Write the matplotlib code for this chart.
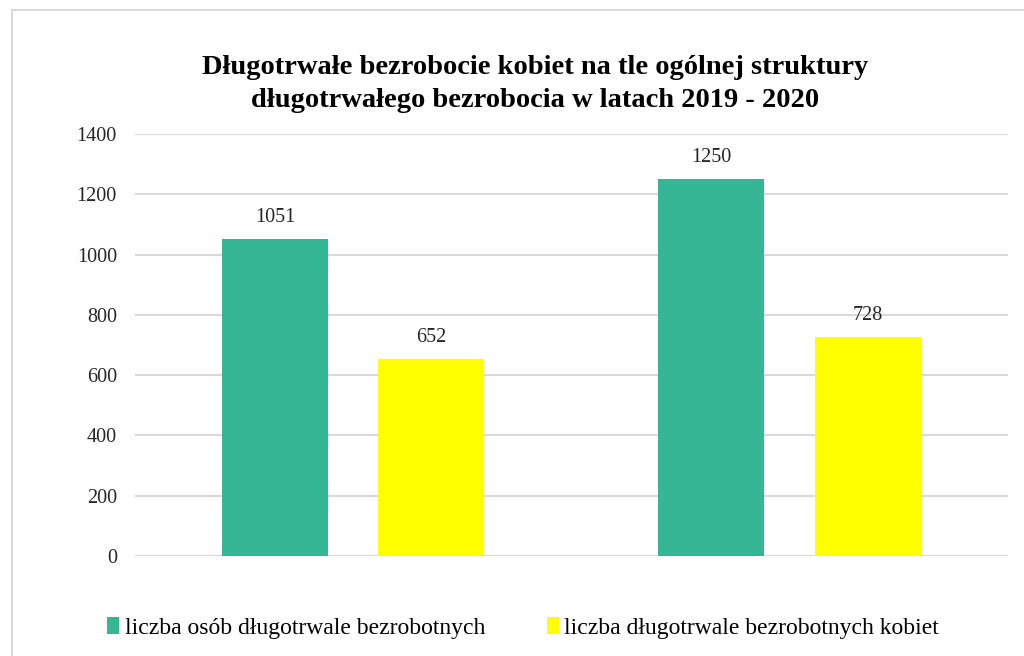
import matplotlib.pyplot as plt
import numpy as np
from matplotlib.patches import Rectangle

years = ["2019", "2020"]
ogolem = [1051, 1250]
kobiety = [652, 728]
series_names = ["liczba osób długotrwale bezrobotnych", "liczba długotrwale bezrobotnych kobiet"]
yticks = [0, 200, 400, 600, 800, 1000, 1200, 1400]

plt.rcParams['font.family'] = ['Liberation Serif', 'DejaVu Serif']

fig = plt.figure(figsize=(10.24, 6.56), dpi=100)
ax = fig.add_axes([0.1318, 0.1524, 0.8522, 0.6433])

# chart border
fig.patches.append(Rectangle((12 / 1024, -0.1), 1.2, (656 - 10) / 656 + 0.1,
                             transform=fig.transFigure, fill=False,
                             edgecolor='#D9D9D9', linewidth=1.5))

x = np.arange(len(years))
w = 0.243
off = 0.179
b1 = ax.bar(x - off, ogolem, w, color='#35B795', label=series_names[0])
b2 = ax.bar(x + off, kobiety, w, color='#FFFF00', label=series_names[1])

for bars in (b1, b2):
    for r in bars:
        ax.text(r.get_x() + r.get_width() / 2, r.get_height() + 40, str(int(r.get_height())),
                ha='center', va='bottom', fontsize=14.5, color='#262626')

ax.set_xlim(-0.5, 1.5)
ax.set_ylim(0, 1400)
ax.set_yticks(yticks)
ax.set_yticklabels([str(t) for t in yticks], fontsize=14.5, color='#262626')
ax.set_xticks([])
ax.tick_params(axis='y', length=0, pad=13)
ax.grid(axis='y', color='#D9D9D9', linewidth=1.5)
ax.set_axisbelow(True)
for s in ax.spines.values():
    s.set_visible(False)

fig.text(0.523, 0.872, "Długotrwałe bezrobocie kobiet na tle ogólnej struktury\ndługotrwałego bezrobocia w latach 2019 - 2020",
         ha='center', va='center', fontsize=20.5, fontweight='bold', linespacing=1.45)

fig.legend(handles=[b1, b2], loc='center', bbox_to_anchor=(0.511, 0.043), ncol=2,
           frameon=False, fontsize=17, handlelength=0.5, handleheight=0.7,
           handletextpad=0.25, columnspacing=2.6)

fig.savefig("out.png", dpi=100)
